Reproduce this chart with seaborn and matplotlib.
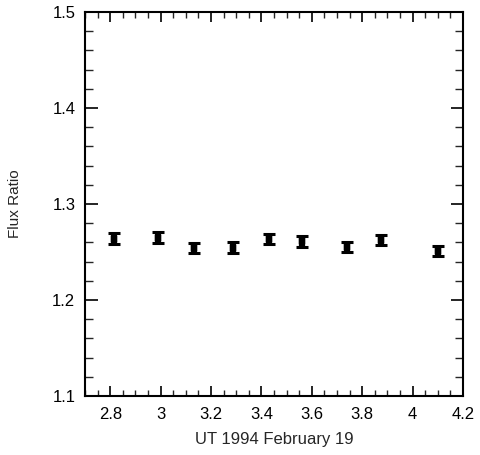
import matplotlib
matplotlib.use("Agg")
import matplotlib.pyplot as plt
import seaborn as sns
import pandas as pd
from matplotlib.ticker import MultipleLocator

ut_hours = [2.815, 2.99, 3.133, 3.287, 3.43, 3.561, 3.74, 3.875, 4.10]
flux_ratio = [1.264, 1.265, 1.254, 1.2545, 1.2635, 1.261, 1.255, 1.2625, 1.251]
flux_err = [0.0055, 0.0055, 0.0055, 0.0055, 0.0055, 0.0055, 0.0055, 0.0055, 0.0055]

df = pd.DataFrame({"ut": ut_hours, "ratio": flux_ratio, "err": flux_err})

sns.set_style("ticks")
plt.rcParams["font.family"] = ["Liberation Sans", "DejaVu Sans"]

fig = plt.figure(figsize=(4.81, 4.55), dpi=100)
ax = fig.add_axes([85/481, 59/455, 378/481, 384/455])

ax.errorbar(df["ut"], df["ratio"], yerr=df["err"], fmt="none", ecolor="black",
            elinewidth=4.5, capsize=4.5, capthick=2.2)
sns.scatterplot(data=df, x="ut", y="ratio", ax=ax, marker="s", s=14,
                color="black", edgecolor="black", legend=False)

ax.set_xlim(2.7, 4.2)
ax.set_ylim(1.1, 1.5)
ax.xaxis.set_major_locator(MultipleLocator(0.2))
ax.xaxis.set_minor_locator(MultipleLocator(0.05))
ax.yaxis.set_major_locator(MultipleLocator(0.1))
ax.yaxis.set_minor_locator(MultipleLocator(0.02))
ax.set_xticks([2.8, 3.0, 3.2, 3.4, 3.6, 3.8, 4.0, 4.2])
ax.set_xticklabels(["2.8", "3", "3.2", "3.4", "3.6", "3.8", "4", "4.2"])
ax.set_yticks([1.1, 1.2, 1.3, 1.4, 1.5])
ax.set_yticklabels(["1.1", "1.2", "1.3", "1.4", "1.5"])

ax.tick_params(axis="x", which="major", direction="in", length=7.5, width=1.2,
               top=True, bottom=True, labelsize=12, pad=8, colors="black")
ax.tick_params(axis="x", which="minor", direction="in", length=4, width=1.0,
               top=True, bottom=True)
ax.tick_params(axis="y", which="major", direction="in", length=9, width=1.2,
               left=True, right=True, labelsize=12, pad=7, colors="black")
ax.tick_params(axis="y", which="minor", direction="in", length=6, width=1.0,
               left=True, right=True)

for sp in ax.spines.values():
    sp.set_linewidth(1.5)
    sp.set_color("black")
    sp.set_visible(True)

ax.set_xlabel("UT 1994 February 19", fontsize=12, labelpad=7)
ax.set_ylabel("Flux Ratio", fontsize=11, labelpad=22)

fig.savefig("out.png", dpi=100, facecolor="white")
